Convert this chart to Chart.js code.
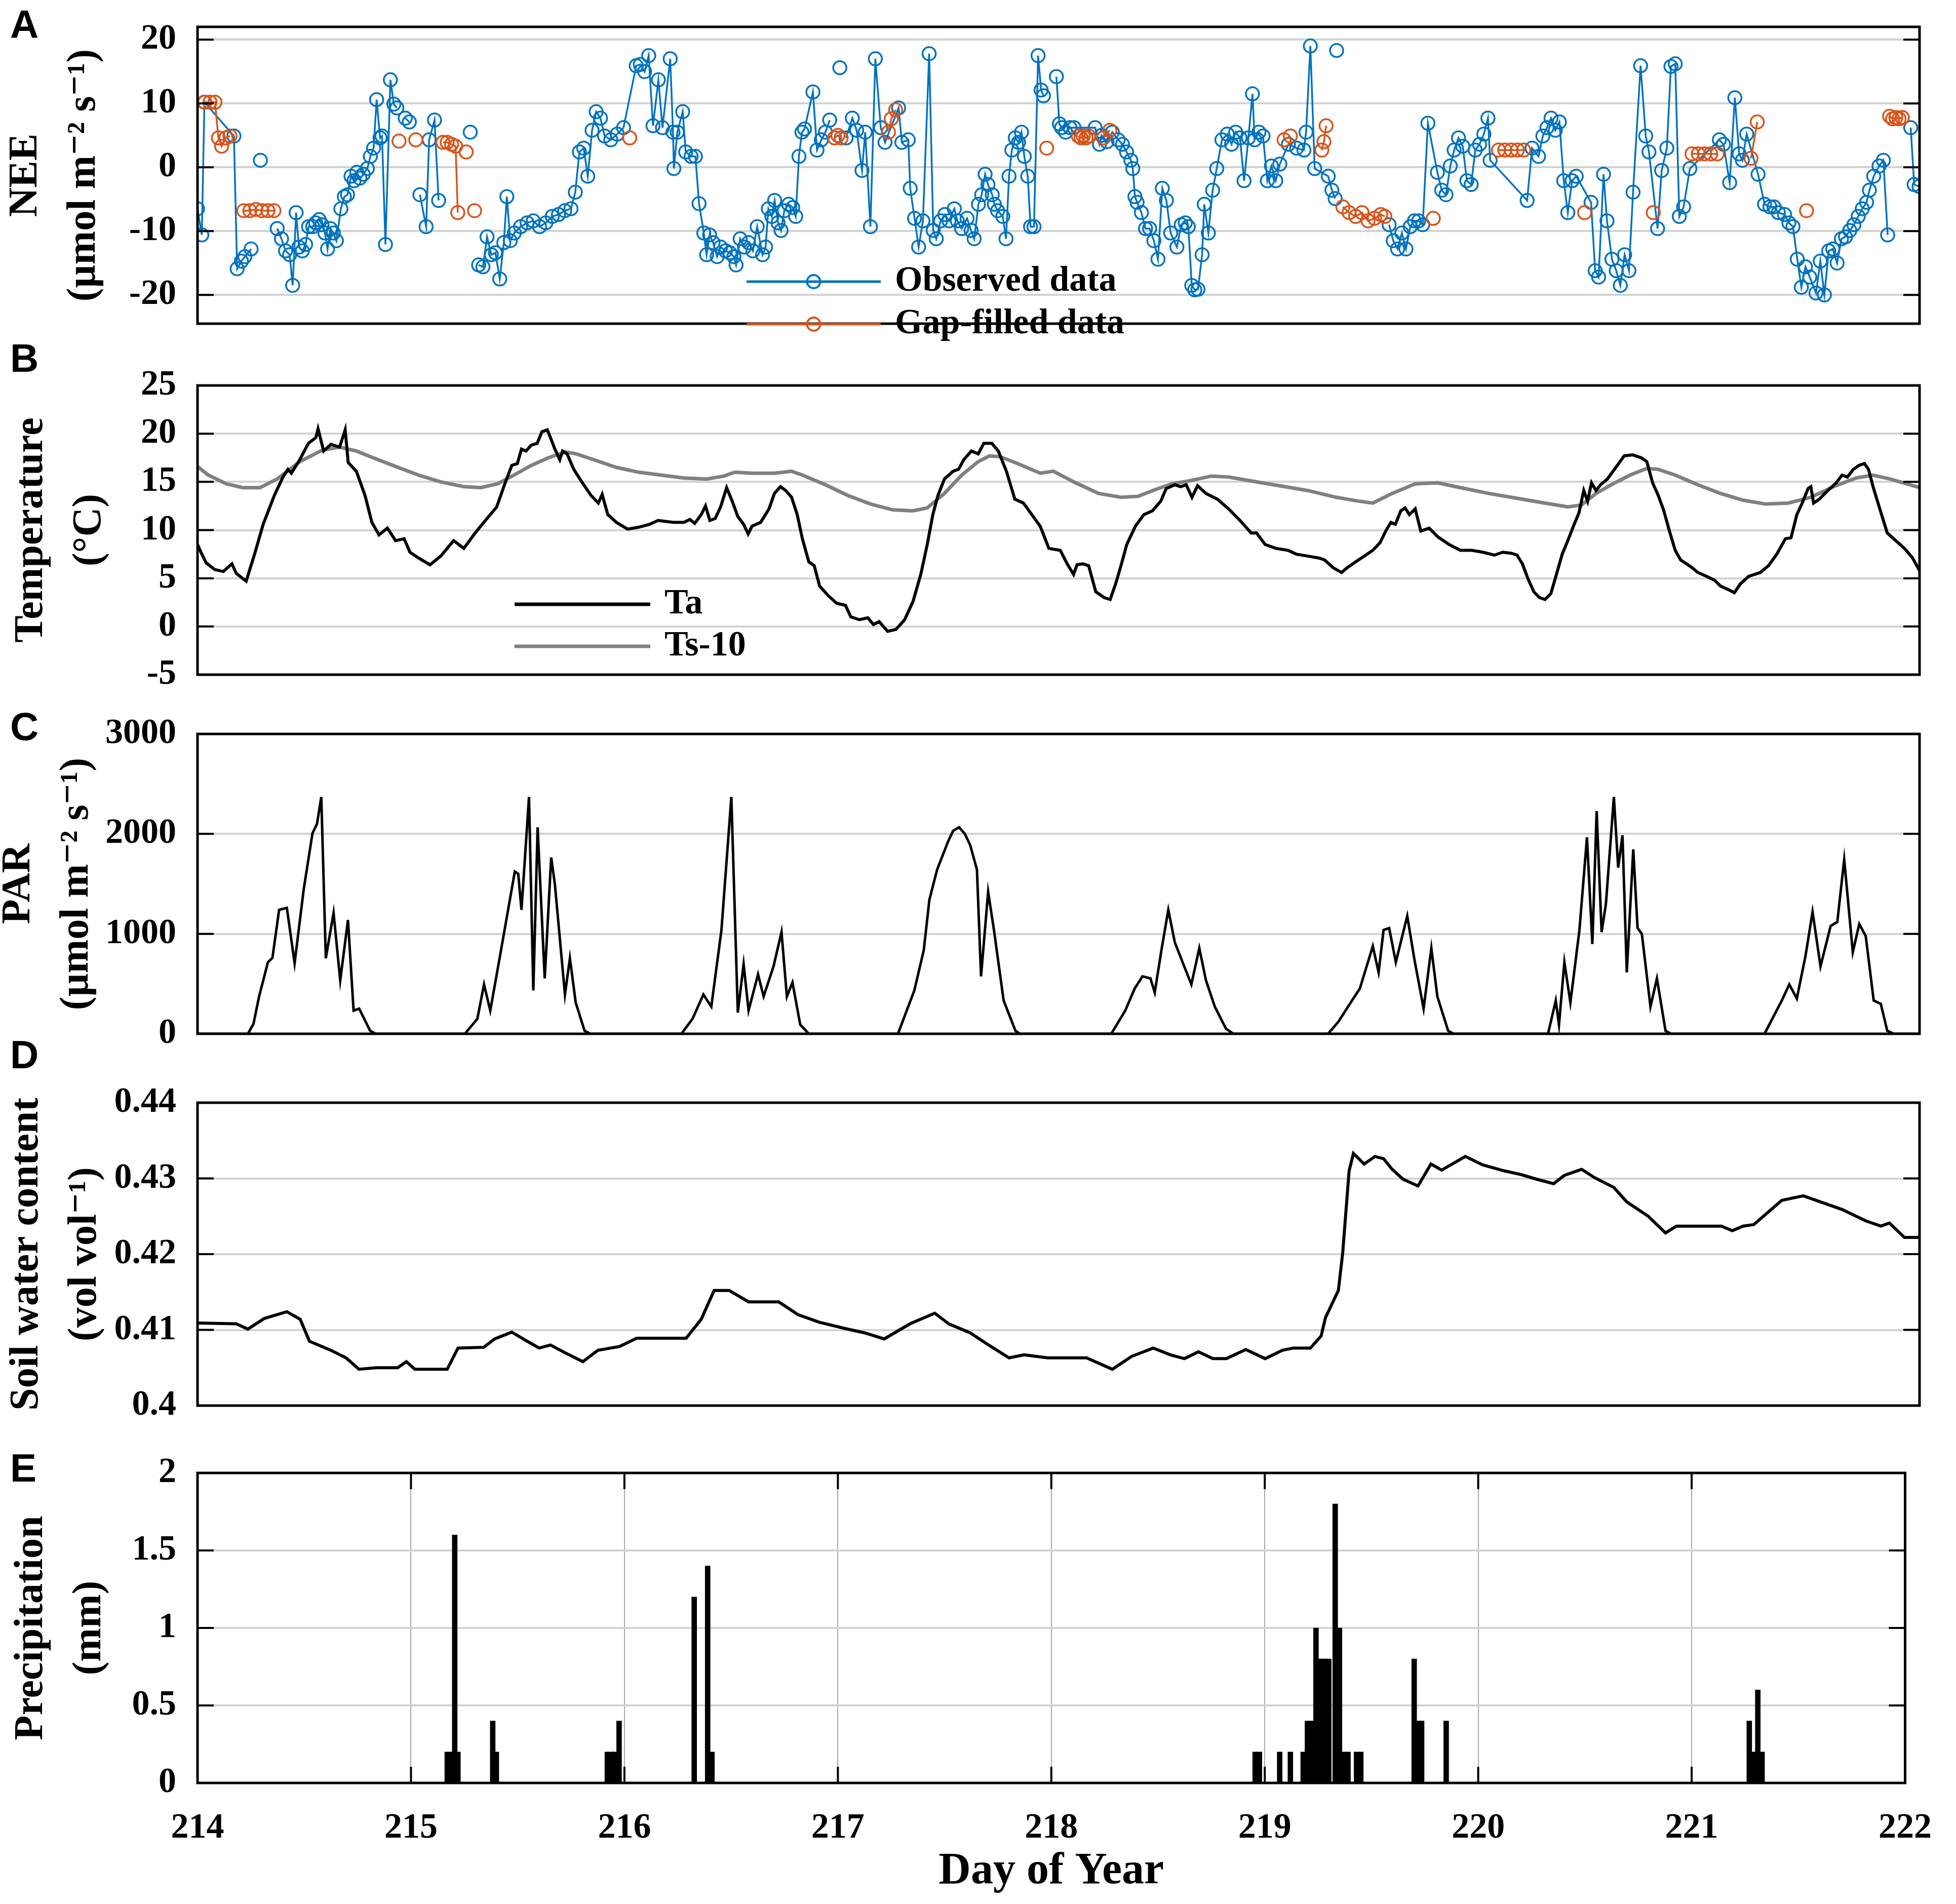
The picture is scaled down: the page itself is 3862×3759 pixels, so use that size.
<!DOCTYPE html>
<html>
<head>
<meta charset="utf-8">
<title>NEE, temperature, PAR, soil water and precipitation, DOY 214-222</title>
<script src="https://cdn.jsdelivr.net/npm/chart.js@4.4.1/dist/chart.umd.min.js"></script>
<style>
  html, body { margin: 0; padding: 0; background: #fff; }
  #page { position: relative; width: 3862px; height: 3759px; overflow: hidden; background: #fff; }
  canvas { position: absolute; left: 0; }
  .tag { position: absolute; left: 20px; line-height: 1; font: bold 78px 'Liberation Sans', Arial, sans-serif; color: #000; }
</style>
</head>
<body>
<div id="page">
  <canvas id="nee"></canvas>
  <canvas id="temp"></canvas>
  <canvas id="par"></canvas>
  <canvas id="swc"></canvas>
  <canvas id="rain"></canvas>
  <div class="tag" style="top:3px">A</div>
  <div class="tag" style="top:662px">B</div>
  <div class="tag" style="top:1389px">C</div>
  <div class="tag" style="top:2037px">D</div>
  <div class="tag" style="top:2853px">E</div>
</div>
<script>
// ---- data: [day of year, value]; null breaks a line ----
const NEE_OBSERVED = [
  [214.00,-6.5],[214.02,-10.6],[214.032,10.2],[214.169,4.9],[214.184,-15.9],[214.204,-14.7],[214.22,-14.0],[214.249,-12.8],
  [214.26,null],[214.292,1.1],[214.30,null],
  [214.37,-9.6],[214.39,-11.2],[214.409,-13.1],[214.428,-13.7],[214.442,-18.5],[214.458,-7.1],[214.471,-12.5],[214.487,-13.1],
  [214.502,-12.1],[214.516,-9.3],[214.535,-9.3],[214.549,-8.7],[214.565,-8.2],[214.578,-9.0],[214.592,-10.3],[214.604,-12.8],
  [214.617,-9.6],[214.631,-10.3],[214.645,-11.5],[214.666,-6.5],[214.682,-4.6],[214.697,-4.3],[214.713,-1.4],[214.727,-2.1],
  [214.74,-0.8],[214.754,-1.7],[214.77,-1.1],[214.789,-0.2],[214.803,1.7],[214.818,3.0],[214.832,10.6],[214.848,4.6],
  [214.857,4.9],[214.873,-12.1],[214.896,13.7],[214.912,9.9],[214.926,9.3],
  [214.94,null],[214.965,7.7],[214.984,7.1],[215.0,null],
  [215.033,-4.3],[215.062,-9.3],[215.076,4.3],[215.101,7.4],[215.12,-5.2],
  [215.13,null],[215.267,5.5],[215.28,null],
  [215.306,-15.3],[215.326,-15.6],[215.345,-10.9],[215.365,-13.7],[215.384,-13.4],[215.404,-17.5],[215.423,-11.8],[215.437,-4.6],
  [215.453,-11.5],[215.472,-10.3],[215.501,-9.3],[215.531,-8.7],[215.56,-8.4],[215.589,-9.3],[215.618,-8.7],[215.648,-7.7],
  [215.677,-7.4],[215.706,-6.8],[215.735,-6.5],[215.755,-3.9],[215.774,2.4],[215.794,3.0],[215.813,-1.4],[215.833,5.8],
  [215.852,8.7],[215.872,7.7],[215.891,4.9],[215.92,4.3],[215.95,5.2],[215.979,6.2],[216.038,15.9],[216.057,16.1],
  [216.077,15.0],[216.096,17.5],[216.116,6.5],[216.141,13.7],[216.16,6.2],[216.196,17.0],[216.209,5.5],[216.213,-0.2],
  [216.229,5.5],[216.254,8.7],[216.268,2.4],[216.293,1.7],[216.313,1.7],[216.33,-5.7],[216.352,-10.3],[216.365,-13.7],
  [216.379,-10.6],[216.395,-11.8],[216.414,-14.0],[216.43,-12.5],[216.453,-13.1],[216.473,-13.4],[216.492,-14.0],[216.502,-15.3],
  [216.521,-11.2],[216.541,-12.5],[216.56,-11.8],[216.58,-13.1],[216.6,-9.3],[216.625,-13.7],[216.639,-12.5],[216.652,-6.5],
  [216.668,-7.7],[216.681,-5.2],[216.697,-8.7],[216.711,-9.9],[216.726,-6.8],[216.746,-5.8],[216.765,-6.3],[216.779,-7.7],
  [216.794,1.7],[216.808,5.5],[216.82,6.0],[216.859,11.8],[216.878,2.7],[216.898,4.3],[216.917,5.5],[216.937,7.4],
  [216.95,null],[216.984,15.6],[216.995,null],
  [217.013,4.6],[217.042,7.7],[217.062,5.8],[217.087,-0.5],[217.102,5.5],[217.126,-9.3],[217.149,17.0],[217.174,6.2],
  [217.194,3.9],[217.257,9.3],[217.272,3.9],[217.302,4.3],[217.311,-3.3],[217.331,-8.0],[217.35,-12.5],[217.37,-8.4],
  [217.399,17.8],[217.418,-9.9],[217.432,-11.2],[217.452,-8.4],[217.472,-7.4],[217.491,-8.4],[217.516,-6.5],[217.53,-8.4],
  [217.55,-9.6],[217.575,-8.0],[217.594,-9.9],[217.608,-11.2],[217.628,-5.8],[217.643,-4.3],[217.659,-1.1],[217.672,-2.7],
  [217.692,-4.3],[217.702,-5.8],[217.717,-6.8],[217.741,-7.7],[217.756,-11.2],[217.77,-1.4],[217.783,2.7],[217.799,4.6],
  [217.814,3.9],[217.828,5.5],[217.841,1.7],[217.857,-1.4],[217.87,-9.3],[217.886,-9.3],[217.905,17.5],[217.919,12.1],
  [217.93,11.2],[217.94,null],
  [217.99,14.2],[218.004,6.8],[218.014,6.2],[218.033,5.5],[218.053,6.2],[218.072,6.2],[218.17,6.2],[218.19,3.6],
  [218.2,5.0],[218.225,4.0],[218.25,5.5],[218.277,4.3],[218.297,3.6],[218.316,2.4],[218.336,1.1],[218.345,-0.2],
  [218.355,-4.6],[218.365,-5.5],[218.385,-7.1],[218.404,-9.6],[218.423,-9.6],[218.443,-11.5],[218.462,-14.4],[218.482,-3.3],
  [218.501,-5.2],[218.521,-10.3],[218.55,-12.5],[218.57,-9.0],[218.589,-8.7],[218.603,-9.3],[218.619,-18.5],[218.633,-19.2],
  [218.648,-19.1],[218.667,-13.7],[218.677,-5.8],[218.696,-10.3],[218.716,-3.6],[218.735,-0.2],[218.759,4.3],[218.784,5.2],
  [218.804,3.6],[218.823,5.5],[218.843,4.6],[218.862,-2.1],[218.882,4.6],[218.901,11.5],[218.911,4.3],[218.931,5.5],
  [218.95,4.9],[218.97,-2.1],[218.989,0.2],[219.009,-2.1],[219.028,0.5],[219.068,3.6],[219.106,3.0],[219.14,2.7],
  [219.15,5.5],[219.17,19.0],[219.19,-0.2],[219.253,-1.4],[219.27,-3.6],[219.285,-4.9],
  [219.288,null],[219.292,18.3],[219.296,null],
  [219.536,-9.0],[219.555,-11.5],[219.575,-12.8],[219.595,-10.3],[219.614,-12.8],[219.634,-9.3],[219.653,-8.4],[219.673,-8.4],
  [219.692,-9.0],[219.716,6.9],[219.76,-0.8],[219.78,-3.6],[219.8,-4.3],[219.82,0.2],[219.838,2.7],[219.858,4.6],
  [219.878,3.3],[219.897,-2.1],[219.917,-2.7],[219.936,2.7],[219.956,3.6],[219.976,5.2],[219.995,7.7],[220.005,1.1],
  [220.177,-5.2],[220.2,3.0],[220.23,1.7],[220.25,4.9],[220.269,6.2],[220.288,7.7],[220.308,5.8],[220.327,7.1],
  [220.347,-2.1],[220.366,-7.1],[220.386,-2.1],[220.405,-1.4],[220.474,-5.5],[220.493,-16.2],[220.509,-17.2],[220.532,-1.1],
  [220.548,-8.4],[220.571,-14.4],[220.591,-16.2],[220.61,-18.5],[220.63,-13.7],[220.65,-16.2],[220.669,-3.9],[220.704,15.9],
  [220.728,4.9],[220.743,2.4],[220.783,-9.6],[220.802,-0.5],[220.826,3.0],[220.845,15.8],[220.865,16.2],[220.884,-7.7],
  [220.904,-6.2],[220.933,-0.2],[221.07,4.3],[221.089,3.6],[221.118,-2.4],[221.142,10.9],[221.162,2.1],[221.177,1.1],
  [221.197,5.2],[221.25,-1.1],[221.28,-5.8],[221.305,-6.2],[221.324,-6.2],[221.344,-7.1],[221.373,-7.4],[221.393,-8.7],
  [221.412,-9.3],[221.432,-14.4],[221.451,-18.8],[221.47,-15.6],[221.49,-17.2],[221.519,-19.7],[221.539,-14.7],[221.558,-20.0],
  [221.578,-13.1],[221.597,-12.8],[221.617,-15.0],[221.637,-11.2],[221.656,-10.9],[221.676,-9.9],[221.695,-9.0],[221.715,-7.7],
  [221.734,-6.5],[221.754,-5.5],[221.767,-3.6],[221.787,-1.4],[221.812,0.2],[221.832,1.1],[221.852,-10.6],
  [221.87,null],[221.959,6.2],[221.975,-2.7],[221.998,-3.0]
];

const NEE_GAPFILLED = [
  [214.034,10.2],[214.058,10.2],[214.081,10.2],[214.097,4.6],[214.112,3.3],[214.132,4.6],[214.151,4.9],[214.16,null],
  [214.215,-6.8],[214.243,-6.8],[214.271,-6.6],[214.299,-6.8],[214.327,-6.8],[214.355,-6.8],[214.36,null],
  [214.936,4.1],[214.95,null],[215.014,4.3],[215.02,null],
  [215.14,3.9],[215.16,3.9],[215.18,3.6],[215.199,3.3],[215.209,-7.1],[215.22,null],
  [215.248,2.4],[215.26,null],[215.287,-6.8],[215.29,null],
  [216.008,4.6],[216.02,null],
  [216.96,4.6],[216.975,5.0],[216.99,4.6],[217.0,null],
  [217.21,5.5],[217.223,7.6],[217.243,9.0],[217.25,null],
  [217.945,3.0],[217.95,null],
  [218.092,4.9],[218.105,4.6],[218.115,4.9],[218.128,4.6],[218.14,4.9],[218.15,null],
  [218.209,4.6],[218.238,5.8],[218.24,null],
  [219.048,4.3],[219.077,4.9],[219.08,null],
  [219.223,2.7],[219.233,4.0],[219.243,6.5],[219.25,null],
  [219.321,-6.2],[219.35,-7.1],[219.38,-7.7],[219.41,-7.1],[219.438,-8.4],[219.468,-8.0],[219.497,-7.4],[219.516,-7.7],[219.52,null],
  [219.741,-8.0],[219.75,null],
  [220.044,2.7],[220.073,2.7],[220.103,2.7],[220.132,2.7],[220.161,2.7],[220.17,null],
  [220.444,-7.1],[220.45,null],
  [220.763,-7.1],[220.77,null],
  [220.943,2.1],[220.972,2.1],[221.001,2.1],[221.03,2.1],[221.06,2.1],[221.065,null],
  [221.217,1.4],[221.246,7.1],[221.25,null],
  [221.475,-6.8],[221.48,null],
  [221.861,8.0],[221.875,7.6],[221.89,7.8],[221.905,7.6],[221.92,7.8]
];

const TA = [
  [214.0,8.5],[214.016,7.7],[214.04,6.6],[214.08,5.9],[214.12,5.7],[214.16,6.5],[214.18,5.5],[214.226,4.7],
  [214.265,7.5],[214.305,10.6],[214.357,13.6],[214.397,15.5],[214.42,16.3],[214.436,15.9],[214.475,17.3],[214.515,19.0],
  [214.55,19.6],[214.56,20.5],[214.586,18.2],[214.62,18.9],[214.66,18.6],[214.686,20.4],[214.70,17.0],[214.738,16.1],
  [214.778,13.6],[214.81,10.8],[214.843,9.5],[214.882,10.2],[214.92,8.9],[214.96,9.1],[214.987,7.7],[215.027,7.1],
  [215.08,6.4],[215.13,7.3],[215.19,8.9],[215.237,8.1],[215.29,9.7],[215.345,11.2],[215.39,12.4],[215.426,14.7],
  [215.46,16.7],[215.486,16.9],[215.505,18.4],[215.526,18.2],[215.55,18.8],[215.578,19.0],[215.60,20.2],[215.625,20.4],
  [215.643,19.4],[215.66,18.4],[215.683,17.3],[215.696,18.2],[215.717,17.9],[215.748,16.3],[215.788,14.9],[215.828,13.6],
  [215.862,12.8],[215.88,13.7],[215.906,11.6],[215.946,10.8],[215.998,10.1],[216.05,10.3],[216.10,10.6],[216.14,11.0],
  [216.21,10.8],[216.26,10.8],[216.287,11.1],[216.31,10.7],[216.34,11.6],[216.36,12.5],[216.38,11.0],[216.405,11.2],
  [216.43,12.4],[216.458,14.4],[216.484,13.0],[216.51,11.4],[216.537,10.6],[216.558,9.6],[216.576,10.4],[216.616,10.8],
  [216.655,12.2],[216.68,13.8],[216.708,14.5],[216.733,14.1],[216.76,13.4],[216.786,11.6],[216.81,9.1],[216.84,6.7],
  [216.865,6.3],[216.89,4.2],[216.93,3.2],[216.97,2.4],[217.01,2.2],[217.035,1.0],[217.075,0.7],[217.114,0.9],
  [217.14,0.2],[217.167,0.5],[217.206,-0.5],[217.245,-0.3],[217.285,0.7],[217.324,2.6],[217.36,5.4],[217.39,8.5],
  [217.416,11.6],[217.44,13.6],[217.47,15.3],[217.51,16.1],[217.535,16.3],[217.56,17.3],[217.595,18.2],[217.627,17.9],
  [217.653,19.0],[217.69,19.0],[217.72,18.2],[217.758,16.1],[217.797,13.2],[217.837,12.8],[217.876,11.6],[217.915,10.4],
  [217.955,8.1],[218.008,7.9],[218.04,6.5],[218.07,5.4],[218.086,6.4],[218.113,6.5],[218.14,6.3],[218.173,3.6],
  [218.212,3.0],[218.24,2.8],[218.265,4.4],[218.29,6.3],[218.317,8.5],[218.357,10.4],[218.396,11.6],[218.436,12.0],
  [218.475,13.0],[218.50,14.3],[218.54,14.7],[218.567,14.5],[218.593,14.7],[218.62,13.4],[218.646,14.6],[218.685,13.8],
  [218.738,13.2],[218.79,12.2],[218.843,11.0],[218.895,9.7],[218.92,9.7],[218.96,8.5],[219.01,8.1],[219.066,7.9],
  [219.105,7.5],[219.158,7.3],[219.21,7.1],[219.236,6.9],[219.276,6.1],[219.315,5.6],[219.341,6.1],[219.38,6.7],
  [219.42,7.3],[219.46,7.9],[219.494,8.7],[219.52,9.9],[219.544,10.8],[219.565,10.6],[219.59,12.0],[219.61,12.3],
  [219.63,11.6],[219.657,12.2],[219.683,9.9],[219.722,10.2],[219.762,9.3],[219.815,8.5],[219.867,7.9],[219.92,7.9],
  [219.972,7.7],[220.025,7.4],[220.064,7.7],[220.103,7.6],[220.13,7.4],[220.155,6.5],[220.18,5.0],[220.208,3.6],
  [220.234,3.0],[220.26,2.8],[220.287,3.4],[220.313,5.4],[220.34,7.5],[220.366,8.9],[220.392,10.4],[220.418,11.8],
  [220.44,14.1],[220.458,13.0],[220.476,14.9],[220.497,14.1],[220.518,14.7],[220.55,15.3],[220.576,16.1],[220.602,16.9],
  [220.628,17.7],[220.668,17.8],[220.707,17.5],[220.733,17.1],[220.76,14.9],[220.786,13.6],[220.812,12.0],[220.838,9.9],
  [220.865,7.9],[220.89,6.9],[220.917,6.5],[220.943,6.1],[220.97,5.6],[221.01,5.2],[221.048,4.8],[221.075,4.2],
  [221.114,3.8],[221.14,3.5],[221.167,4.4],[221.206,5.2],[221.26,5.6],[221.298,6.3],[221.337,7.5],[221.377,9.1],
  [221.403,9.2],[221.43,11.6],[221.455,12.8],[221.482,14.3],[221.495,14.5],[221.508,12.8],[221.534,13.2],[221.574,14.1],
  [221.613,14.9],[221.64,15.7],[221.665,15.5],[221.692,16.3],[221.718,16.7],[221.744,16.9],[221.763,16.3],[221.784,14.5],
  [221.81,12.6],[221.85,9.7],[221.89,8.9],[221.93,8.1],[221.968,7.1],[222.0,5.8]
];

const TS10 = [
  [214.0,16.6],[214.05,15.7],[214.134,14.8],[214.21,14.4],[214.29,14.4],[214.37,15.3],[214.475,17.1],[214.58,18.3],
  [214.66,18.6],[214.738,18.2],[214.816,17.5],[214.92,16.6],[215.027,15.7],[215.13,15.0],[215.237,14.5],[215.316,14.4],
  [215.394,14.8],[215.47,15.7],[215.55,16.7],[215.63,17.5],[215.71,18.1],[215.76,17.9],[215.84,17.3],[215.946,16.5],
  [216.05,16.0],[216.155,15.7],[216.26,15.4],[216.366,15.3],[216.445,15.6],[216.497,16.0],[216.576,15.9],[216.68,15.9],
  [216.76,16.1],[216.81,15.7],[216.917,14.7],[217.02,13.6],[217.127,12.7],[217.23,12.1],[217.324,12.0],[217.39,12.3],
  [217.47,13.8],[217.55,15.7],[217.627,17.1],[217.68,17.7],[217.73,17.6],[217.81,16.9],[217.915,15.9],[217.976,16.1],
  [218.08,14.9],[218.186,13.8],[218.29,13.4],[218.37,13.5],[218.45,14.2],[218.527,14.8],[218.606,15.1],[218.71,15.6],
  [218.79,15.5],[218.895,15.1],[219.026,14.6],[219.158,14.1],[219.29,13.4],[219.394,13.0],[219.46,12.8],[219.55,13.8],
  [219.657,14.8],[219.762,14.9],[219.867,14.4],[219.998,13.8],[220.13,13.3],[220.26,12.8],[220.366,12.4],[220.43,12.6],
  [220.497,13.8],[220.576,14.8],[220.655,15.7],[220.733,16.4],[220.786,16.3],[220.865,15.7],[220.97,14.7],[221.075,13.8],
  [221.18,13.1],[221.285,12.7],[221.39,12.8],[221.495,13.4],[221.6,14.5],[221.705,15.4],[221.784,15.7],[221.863,15.3],
  [221.94,14.8],[222.0,14.4]
];

const PAR = [
  [214.0,0],[214.234,0],[214.26,100],[214.286,373],[214.327,716],[214.348,760],[214.379,1240],[214.415,1260],
  [214.451,706],[214.493,1441],[214.534,2006],[214.555,2100],[214.575,2369],[214.596,756],[214.632,1210],[214.663,534],
  [214.699,1139],[214.725,232],[214.751,252],[214.802,30],[214.828,0],
  [215.242,0],[215.30,150],[215.331,494],[215.36,232],[215.41,837],[215.474,1623],[215.49,1600],[215.505,1240],
  [215.54,2369],[215.56,433],[215.58,2066],[215.613,554],[215.643,1764],[215.66,1500],[215.707,393],[215.73,756],
  [215.757,312],[215.798,30],[215.825,0],
  [216.248,0],[216.30,151],[216.35,393],[216.387,272],[216.434,1038],[216.48,2369],[216.51,212],[216.537,696],
  [216.56,232],[216.604,595],[216.63,373],[216.676,675],[216.713,1018],[216.738,373],[216.764,514],[216.80,91],[216.84,0],
  [217.254,0],[217.33,433],[217.374,837],[217.40,1341],[217.436,1643],[217.487,1925],[217.51,2030],[217.538,2066],
  [217.565,2000],[217.59,1885],[217.621,1643],[217.64,575],[217.673,1421],[217.70,1038],[217.745,333],[217.80,30],[217.82,0],
  [218.245,0],[218.31,232],[218.354,454],[218.39,575],[218.427,554],[218.447,413],[218.478,837],[218.51,1240],
  [218.54,917],[218.58,696],[218.617,494],[218.654,857],[218.685,534],[218.726,272],[218.778,50],[218.813,0],
  [219.252,0],[219.30,120],[219.345,272],[219.40,454],[219.46,877],[219.487,615],[219.51,1038],[219.536,1058],
  [219.567,716],[219.62,1179],[219.654,736],[219.696,252],[219.732,857],[219.76,373],[219.81,30],[219.835,0],
  [220.274,0],[220.31,333],[220.325,91],[220.35,716],[220.378,312],[220.42,1038],[220.455,1966],[220.48,897],
  [220.50,2228],[220.523,1018],[220.543,1300],[220.58,2369],[220.60,1663],[220.62,1986],[220.64,615],[220.67,1845],
  [220.69,1058],[220.71,1000],[220.75,272],[220.78,554],[220.82,30],[220.845,0],
  [221.28,0],[221.36,333],[221.395,494],[221.43,353],[221.47,776],[221.503,1220],[221.54,675],[221.587,1079],
  [221.618,1119],[221.65,1744],[221.69,816],[221.72,1099],[221.75,978],[221.787,333],[221.82,300],[221.85,30],
  [221.88,0],[222.0,0]
];

const SWC = [
  [214.0,0.4109],[214.18,0.4108],[214.234,0.4101],[214.31,0.4115],[214.415,0.4124],[214.477,0.4114],[214.52,0.4085],
  [214.62,0.4073],[214.69,0.4063],[214.75,0.4048],[214.83,0.4050],[214.93,0.4050],[214.97,0.4058],[215.01,0.4048],
  [215.16,0.4048],[215.21,0.4076],[215.33,0.4077],[215.38,0.4088],[215.46,0.4097],[215.525,0.4086],[215.587,0.4076],
  [215.64,0.4080],[215.706,0.4070],[215.79,0.4058],[215.86,0.4073],[215.96,0.4078],[216.04,0.4089],[216.27,0.4089],
  [216.34,0.4114],[216.40,0.4152],[216.47,0.4152],[216.56,0.4137],[216.70,0.4137],[216.79,0.4120],[216.89,0.4110],
  [217.02,0.4101],[217.10,0.4096],[217.19,0.4088],[217.31,0.4108],[217.425,0.4122],[217.49,0.4108],[217.59,0.4096],
  [217.67,0.4081],[217.77,0.4063],[217.84,0.4067],[217.95,0.4063],[218.13,0.4063],[218.25,0.4048],[218.34,0.4065],
  [218.44,0.4076],[218.52,0.4067],[218.585,0.4062],[218.65,0.4071],[218.717,0.4062],[218.78,0.4062],[218.87,0.4074],
  [218.96,0.4062],[219.04,0.4073],[219.09,0.4076],[219.17,0.4076],[219.22,0.4092],[219.24,0.4116],[219.30,0.4152],
  [219.32,0.4201],[219.35,0.4310],[219.37,0.4333],[219.42,0.4319],[219.47,0.4329],[219.51,0.4326],[219.55,0.4312],
  [219.60,0.4299],[219.67,0.4290],[219.73,0.4319],[219.78,0.4311],[219.89,0.4329],[219.97,0.4318],[220.07,0.4310],
  [220.15,0.4305],[220.22,0.4299],[220.30,0.4293],[220.35,0.4304],[220.43,0.4312],[220.49,0.4301],[220.58,0.4288],
  [220.64,0.4269],[220.74,0.4250],[220.82,0.4228],[220.87,0.4237],[221.08,0.4237],[221.13,0.4231],[221.18,0.4237],
  [221.23,0.4239],[221.36,0.4271],[221.46,0.4277],[221.57,0.4266],[221.64,0.4259],[221.75,0.4244],[221.82,0.4237],
  [221.86,0.4241],[221.93,0.4222],[222.0,0.4222]
];

const PRECIP = [
  [215.17,0.2],[215.19,0.2],[215.205,1.6],[215.22,0.2],[215.383,0.4],[215.40,0.2],
  [215.92,0.2],[215.94,0.2],[215.955,0.2],[215.975,0.4],
  [216.327,1.2],[216.39,1.4],[216.41,0.2],
  [218.955,0.2],[218.975,0.2],[219.07,0.2],[219.12,0.2],
  [219.18,0.2],[219.20,0.4],[219.22,0.4],[219.24,1.0],[219.26,0.8],[219.28,0.8],[219.30,0.8],[219.33,1.8],
  [219.35,1.0],[219.37,0.2],[219.39,0.2],[219.43,0.2],[219.45,0.2],
  [219.70,0.8],[219.72,0.4],[219.735,0.4],[219.85,0.4],
  [221.27,0.4],[221.29,0.2],[221.31,0.6],[221.33,0.2]
];

const DAY_TICKS = [214, 215, 216, 217, 218, 219, 220, 221, 222];
const NEE_TICKS = [-20, -10, 0, 10, 20];
const TEMP_TICKS = [-5, 0, 5, 10, 15, 20, 25];
const PAR_TICKS = [0, 1000, 2000, 3000];
const SWC_TICKS = [0.4, 0.41, 0.42, 0.43, 0.44];
const PRECIP_TICKS = [0, 0.5, 1, 1.5, 2];

// ---- layout ----
const W = 3862, AREA_LEFT = 390, AREA_RIGHT = 3790, PAD = 48;
const SERIF = "'Liberation Serif', 'Times New Roman', 'DejaVu Serif', serif";

Chart.defaults.font.family = SERIF;
Chart.defaults.color = '#000';
Chart.defaults.animation = false;

function xy(arr) {
  return arr.map(([x, y]) => ({ x: x, y: y }));
}

function setTicks(list) {
  return scale => { scale.ticks = list.map(v => ({ value: v })); };
}

function tickFont() {
  return { family: SERIF, size: 70, weight: 'bold' };
}

function yAxis(ticks, min, max, title, titlePad, fmt) {
  return {
    min: min,
    max: max,
    afterBuildTicks: setTicks(ticks),
    afterFit: s => { s.width = AREA_LEFT; },
    ticks: { font: tickFont(), color: '#000', padding: 42, callback: fmt || (v => String(v)) },
    grid: { color: '#d2d2d2', lineWidth: 4, drawTicks: false },
    border: { display: false },
    title: {
      display: true, text: title, color: '#000',
      font: { family: SERIF, size: 80, weight: 'bold', lineHeight: 1.44 },
      padding: { top: titlePad, bottom: 0 }
    }
  };
}

function hiddenX() {
  return { type: 'linear', min: 214, max: 222, offset: false, display: false };
}

// black frame plus MATLAB style inward tick marks
const boxPlugin = {
  id: 'box',
  afterDraw(chart) {
    const ctx = chart.ctx, a = chart.chartArea, ys = chart.scales.y, xs = chart.scales.x;
    ctx.save();
    ctx.strokeStyle = '#000';
    ctx.lineWidth = 4;
    ctx.beginPath();
    ys.ticks.forEach(t => {
      const p = ys.getPixelForValue(t.value);
      ctx.moveTo(a.left, p); ctx.lineTo(a.left + 32, p);
      ctx.moveTo(a.right, p); ctx.lineTo(a.right - 32, p);
    });
    if (xs.options.display) {
      xs.ticks.forEach(t => {
        const p = xs.getPixelForValue(t.value);
        ctx.moveTo(p, a.bottom); ctx.lineTo(p, a.bottom - 32);
        ctx.moveTo(p, a.top); ctx.lineTo(p, a.top + 32);
      });
    }
    ctx.stroke();
    ctx.lineWidth = 5;
    ctx.strokeRect(a.left, a.top, a.right - a.left, a.bottom - a.top);
    ctx.restore();
  }
};

// legend drawn inside the plot area; y given in page pixels
const insetLegend = {
  id: 'insetLegend',
  afterDraw(chart, args, opts) {
    if (!opts || !opts.items) return;
    const ctx = chart.ctx;
    const top = parseFloat(chart.canvas.style.top) || 0;
    ctx.save();
    ctx.font = 'bold 70px ' + SERIF;
    ctx.textBaseline = 'middle';
    ctx.lineCap = 'butt';
    opts.items.forEach((it, i) => {
      const y = opts.y + i * opts.gap - top;
      ctx.strokeStyle = it.color;
      ctx.lineWidth = it.width;
      ctx.beginPath();
      ctx.moveTo(opts.x, y);
      ctx.lineTo(opts.x + opts.len, y);
      ctx.stroke();
      if (it.marker) {
        ctx.lineWidth = 4;
        ctx.beginPath();
        ctx.arc(opts.x + opts.len / 2, y, it.marker, 0, Math.PI * 2);
        ctx.stroke();
      }
      ctx.fillStyle = '#000';
      ctx.fillText(it.label, opts.x + opts.len + 28, y);
    });
    ctx.restore();
  }
};

function mount(id, areaTop, areaBottom, extraBottom) {
  const c = document.getElementById(id);
  const top = areaTop - PAD;
  const h = (areaBottom - areaTop) + PAD + (extraBottom == null ? PAD : extraBottom);
  c.width = W; c.height = h;
  c.style.top = top + 'px';
  c.style.width = W + 'px'; c.style.height = h + 'px';
  return c;
}

function baseOptions(bottomPad) {
  return {
    responsive: false,
    devicePixelRatio: 1,
    layout: { padding: { left: 0, right: W - AREA_RIGHT, top: PAD, bottom: bottomPad } },
    plugins: { legend: { display: false }, tooltip: { enabled: false } }
  };
}

// ---- A: NEE ----
const BLUE = '#0072BD', ORANGE = '#D95319';
new Chart(mount('nee', 17, 675), {
  type: 'line',
  data: {
    datasets: [
      {
        label: 'Gap-filled data', data: xy(NEE_GAPFILLED), order: 1,
        borderColor: ORANGE, borderWidth: 3.5, pointRadius: 13, pointBorderWidth: 3.5,
        pointBorderColor: ORANGE, pointBackgroundColor: 'rgba(0,0,0,0)', spanGaps: false
      },
      {
        label: 'Observed data', data: xy(NEE_OBSERVED), order: 2,
        borderColor: BLUE, borderWidth: 3.5, pointRadius: 13, pointBorderWidth: 3.5,
        pointBorderColor: BLUE, pointBackgroundColor: 'rgba(0,0,0,0)', spanGaps: false
      }
    ]
  },
  options: Object.assign(baseOptions(PAD), {
    scales: {
      x: hiddenX(),
      y: yAxis(NEE_TICKS, -24.5, 22, ['NEE', '(\u00b5mol m\u207b\u00b2 s\u207b\u00b9)'], -6)
    },
    plugins: {
      legend: { display: false }, tooltip: { enabled: false },
      insetLegend: {
        x: 1474, y: 556, gap: 84, len: 265,
        items: [
          { label: 'Observed data', color: BLUE, width: 5, marker: 13 },
          { label: 'Gap-filled data', color: ORANGE, width: 5, marker: 13 }
        ]
      }
    }
  }),
  plugins: [boxPlugin, insetLegend]
});

// ---- B: temperature ----
new Chart(mount('temp', 725, 1368), {
  type: 'line',
  data: {
    datasets: [
      { label: 'Ta', data: xy(TA), order: 1, borderColor: '#000', borderWidth: 6, pointRadius: 0 },
      { label: 'Ts-10', data: xy(TS10), order: 2, borderColor: '#808080', borderWidth: 7, pointRadius: 0 }
    ]
  },
  options: Object.assign(baseOptions(PAD), {
    scales: {
      x: hiddenX(),
      y: yAxis(TEMP_TICKS, -5, 25, ['Temperature', '(\u00b0C)'], 5)
    },
    plugins: {
      legend: { display: false }, tooltip: { enabled: false },
      insetLegend: {
        x: 1016, y: 1193, gap: 83, len: 268,
        items: [
          { label: 'Ta', color: '#000', width: 7 },
          { label: 'Ts-10', color: '#808080', width: 7 }
        ]
      }
    }
  }),
  plugins: [boxPlugin, insetLegend]
});

// ---- C: PAR ----
new Chart(mount('par', 1413, 2077), {
  type: 'line',
  data: {
    datasets: [{ label: 'PAR', data: xy(PAR), borderColor: '#000', borderWidth: 5, pointRadius: 0 }]
  },
  options: Object.assign(baseOptions(PAD), {
    scales: {
      x: hiddenX(),
      y: yAxis(PAR_TICKS, 0, 3000, ['PAR', '(\u00b5mol m\u207b\u00b2 s\u207b\u00b9)'], -20)
    }
  }),
  plugins: [boxPlugin]
});

// ---- D: soil water content ----
new Chart(mount('swc', 2141, 2811), {
  type: 'line',
  data: {
    datasets: [{ label: 'SWC', data: xy(SWC), borderColor: '#000', borderWidth: 6, pointRadius: 0 }]
  },
  options: Object.assign(baseOptions(PAD), {
    scales: {
      x: hiddenX(),
      y: yAxis(SWC_TICKS, 0.4, 0.44, ['Soil water content', '(vol vol\u207b\u00b9)'], -4, v => String(+v.toFixed(2)))
    }
  }),
  plugins: [boxPlugin]
});

// ---- E: precipitation ----
const rainCanvas = mount('rain', 2872, 3520, 3759 - 3520);
new Chart(rainCanvas, {
  type: 'bar',
  data: {
    datasets: [{ label: 'Precipitation', data: xy(PRECIP), backgroundColor: '#000', borderWidth: 0, barThickness: 10 }]
  },
  options: Object.assign(baseOptions(0), {
    scales: {
      x: {
        type: 'linear', min: 214, max: 222, offset: false,
        afterBuildTicks: setTicks(DAY_TICKS),
        afterFit: s => { s.height = 3759 - 3520; },
        ticks: { font: tickFont(), color: '#000', padding: 48, maxRotation: 0, autoSkip: false },
        grid: { color: '#a9a9a9', lineWidth: 2, drawTicks: false, offset: false },
        border: { display: false },
        title: { display: true, text: 'Day of Year', color: '#000', font: { family: SERIF, size: 88, weight: 'bold' }, padding: { top: 0, bottom: 11 } }
      },
      y: yAxis(PRECIP_TICKS, 0, 2, ['Precipitation', '(mm)'], 5)
    }
  }),
  plugins: [boxPlugin]
});
</script>
</body>
</html>
